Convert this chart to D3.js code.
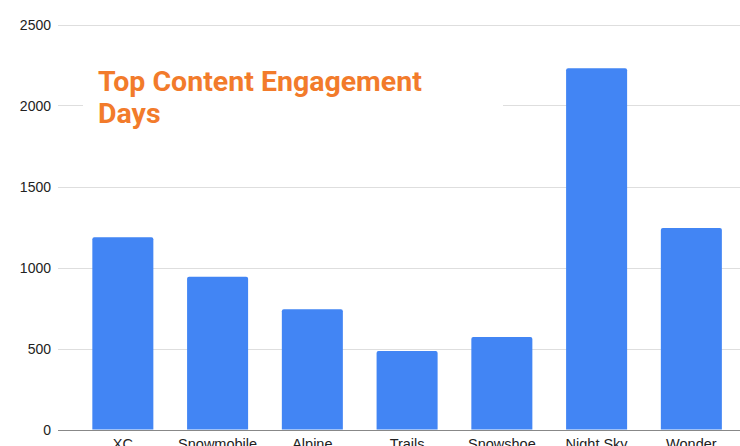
<!DOCTYPE html>
<html><head><meta charset="utf-8">
<script src="https://cdn.jsdelivr.net/npm/d3@7"></script>
<style>html,body{margin:0;padding:0;background:#fff;overflow:hidden}</style>
</head><body>
<svg id="c" width="740" height="446"></svg>
<script>
const categories = ["XC","Snowmobile","Alpine","Trails","Snowshoe","Night Sky","Wonder"];
const values = [1186, 943, 742, 485, 571, 2230, 1244];
const yTicks = [0, 500, 1000, 1500, 2000, 2500];
const titleLines = ["Top Content Engagement", "Days"];

const svg = d3.select("#c");
const x = d3.scaleBand().domain(categories).range([58.6, 755.6]).paddingInner(0.356).paddingOuter(0.356);
const y = d3.scaleLinear().domain([0, 2500]).range([429.5, 24.5]);

// gridlines
svg.append("g").selectAll("line").data(yTicks.filter(d => d > 0)).join("line")
  .attr("x1", 58).attr("x2", 740)
  .attr("y1", d => Math.round(y(d)) + 0.5).attr("y2", d => Math.round(y(d)) + 0.5)
  .attr("stroke", "#dedede").attr("stroke-width", 1);

// y labels
svg.append("g").selectAll("text").data(yTicks).join("text")
  .attr("x", 51).attr("y", d => y(d)).attr("dy", "0.36em")
  .attr("text-anchor", "end")
  .attr("font-family", "Arial, 'Liberation Sans', sans-serif").attr("font-size", 14)
  .attr("fill", "#222").text(d => d);

// title background
svg.append("rect").attr("x", 83).attr("y", 55).attr("width", 420).attr("height", 80).attr("fill", "#fff");

// bars
svg.append("g").selectAll("path").data(values).join("path")
  .attr("fill", "#4285f4")
  .attr("d", (d, i) => {
    const x0 = x(categories[i]), w = x.bandwidth(), y0 = y(d), y1 = y(0), r = 2;
    return `M${x0},${y1}V${y0 + r}Q${x0},${y0} ${x0 + r},${y0}H${x0 + w - r}Q${x0 + w},${y0} ${x0 + w},${y0 + r}V${y1}Z`;
  });

// baseline
svg.append("line").attr("x1", 58).attr("x2", 740)
  .attr("y1", Math.round(y(0)) + 0.5).attr("y2", Math.round(y(0)) + 0.5)
  .attr("stroke", "#888").attr("stroke-width", 1);

// x labels
svg.append("g").selectAll("text").data(categories).join("text")
  .attr("x", d => x(d) + x.bandwidth() / 2).attr("y", 449)
  .attr("text-anchor", "middle")
  .attr("font-family", "Arial, 'Liberation Sans', sans-serif").attr("font-size", 14.5)
  .attr("fill", "#222").text(d => d);

// title
svg.append("g").selectAll("text").data(titleLines).join("text")
  .attr("x", 98).attr("y", (d, i) => 90.7 + i * 32)
  .attr("font-family", "Roboto, sans-serif").attr("font-weight", "bold").attr("font-size", 28.5)
  .attr("fill", "#f27b2b").text(d => d);
</script>
</body></html>
